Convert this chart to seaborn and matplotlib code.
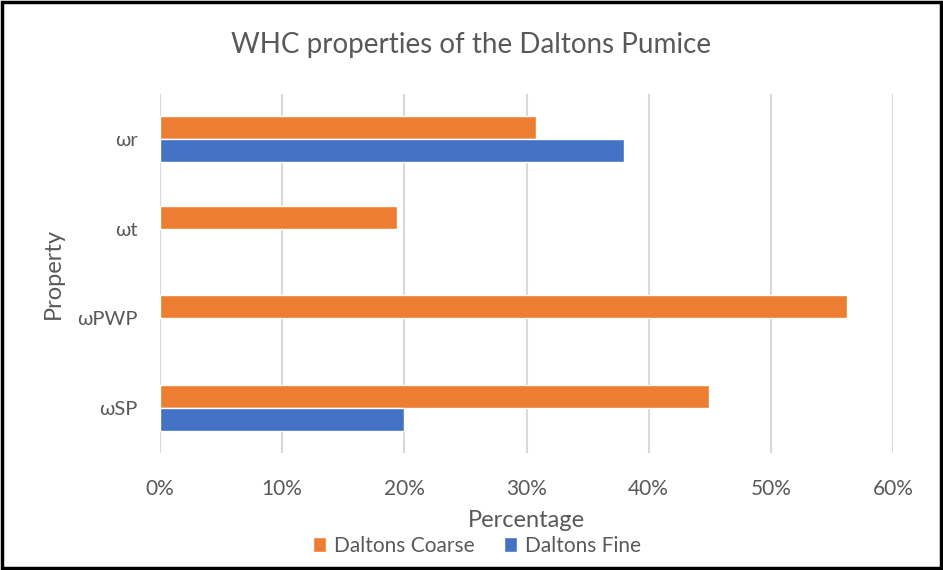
import numpy as np
import pandas as pd
import matplotlib
matplotlib.use("Agg")
import matplotlib.pyplot as plt
import seaborn as sns
from matplotlib.ticker import PercentFormatter
from matplotlib.patches import Rectangle

# Water holding capacity properties (fraction of mass)
properties = ["ωr", "ωt", "ωPWP", "ωSP"]
coarse = [0.308, 0.194, 0.562, 0.449]
fine = [0.380, np.nan, np.nan, 0.200]
series = ["Daltons Coarse", "Daltons Fine"]
colors = ["#ED7D31", "#4472C4"]
x_ticks = [0.0, 0.1, 0.2, 0.3, 0.4, 0.5, 0.6]

df = pd.DataFrame({
    "Property": properties * 2,
    "Percentage": coarse + fine,
    "Series": [series[0]] * 4 + [series[1]] * 4,
})

sns.set_theme(style="white")
plt.rcParams["font.family"] = ["Lato", "DejaVu Sans"]
text_color = "#595959"

fig = plt.figure(figsize=(9.43, 5.70), dpi=100)
ax = fig.add_axes([0.1697, 0.2053, 0.7773, 0.6298])

sns.barplot(data=df, y="Property", x="Percentage", hue="Series",
            order=properties, hue_order=series, palette=colors,
            orient="h", width=0.51, saturation=1, ax=ax, legend=True)

ax.set_xlim(0, 0.6)
ax.set_xticks(x_ticks)
ax.xaxis.set_major_formatter(PercentFormatter(1.0, decimals=0))
ax.grid(axis="x", color="#D9D9D9", linewidth=1.5)
ax.set_axisbelow(True)
for s in ax.spines.values():
    s.set_visible(False)
ax.tick_params(axis="both", length=0, colors=text_color)
ax.tick_params(axis="x", pad=19, labelsize=15)
ax.tick_params(axis="y", pad=16, labelsize=14.5)

ax.set_xlabel("Percentage", fontsize=17, color=text_color, labelpad=8)
ax.set_ylabel("Property", fontsize=17, color=text_color, labelpad=10)

fig.text(0.5, 0.921, "WHC properties of the Daltons Pumice",
         ha="center", va="center", fontsize=20, color=text_color)

ax.legend_.remove()
handles, labels = ax.get_legend_handles_labels()
fig.legend(handles, labels, loc="center", bbox_to_anchor=(0.506, 0.042),
           ncol=2, frameon=False, fontsize=15, handlelength=0.6,
           handleheight=0.7, columnspacing=1.4, handletextpad=0.4,
           labelcolor=text_color)

fig.patches.append(Rectangle((0.002, 0.003), 0.996, 0.994, transform=fig.transFigure,
                             fill=False, edgecolor="black", linewidth=2.5))

fig.savefig("out.png", dpi=100)
